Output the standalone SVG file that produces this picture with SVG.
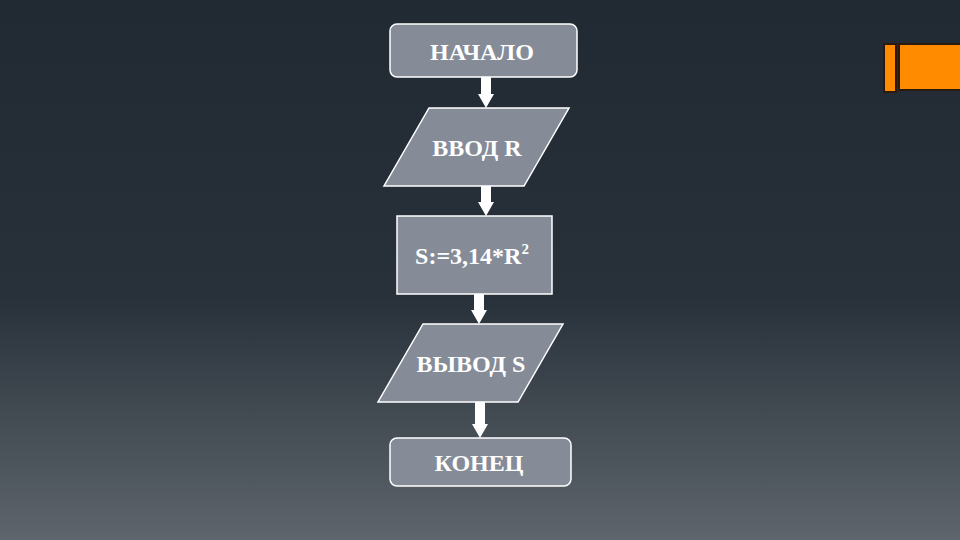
<svg xmlns="http://www.w3.org/2000/svg" width="960" height="540" viewBox="0 0 960 540">
<defs>
<linearGradient id="bg" x1="0" y1="0" x2="0" y2="1">
<stop offset="0" stop-color="#212a32"/>
<stop offset="0.55" stop-color="#28313a"/>
<stop offset="1" stop-color="#5e656c"/>
</linearGradient>
<style>
.shape{fill:#858c98;stroke:#ffffff;stroke-width:1.5}
.lbl{font-family:"Liberation Serif","Times New Roman",serif;font-weight:bold;font-size:24px;fill:#ffffff;text-anchor:middle}
.arr{fill:#ffffff}
</style>
</defs>
<rect width="960" height="540" fill="url(#bg)"/>
<g id="logo">
<rect x="883" y="43" width="14" height="50" fill="#2a1a10"/>
<rect x="885" y="45" width="10" height="46" fill="#ff8c00"/>
<rect x="898" y="43" width="62" height="48" fill="#2a1a10"/>
<rect x="900" y="45" width="60" height="44" fill="#ff8c00"/>
</g>
<g id="connectors">
<polygon class="arr" points="481,77 491,77 491,94 494,94 486,108 478,94 481,94"/>
<polygon class="arr" points="481,186 491,186 491,202 494,202 486,216 478,202 481,202"/>
<polygon class="arr" points="474,294 484,294 484,310 487,310 479,324 471,310 474,310"/>
<polygon class="arr" points="475,402 485,402 485,424 488,424 480,438 472,424 475,424"/>
</g>
<g id="start">
<rect class="shape" x="390" y="24" width="187" height="53" rx="7"/>
<text class="lbl" x="482" y="60">НАЧАЛО</text>
</g>
<g id="input">
<polygon class="shape" points="429,108 569,108 524,186 384,186"/>
<text class="lbl" x="477" y="156">ВВОД R</text>
</g>
<g id="process">
<rect class="shape" x="397" y="216" width="155" height="78"/>
<text class="lbl" x="472" y="264">S:=3,14*R<tspan font-size="15" dy="-10">2</tspan></text>
</g>
<g id="output">
<polygon class="shape" points="423,324 563,324 518,402 378,402"/>
<text class="lbl" x="471" y="372">ВЫВОД S</text>
</g>
<g id="end">
<rect class="shape" x="390" y="438" width="181" height="48" rx="7"/>
<text class="lbl" x="479" y="471">КОНЕЦ</text>
</g>
</svg>
